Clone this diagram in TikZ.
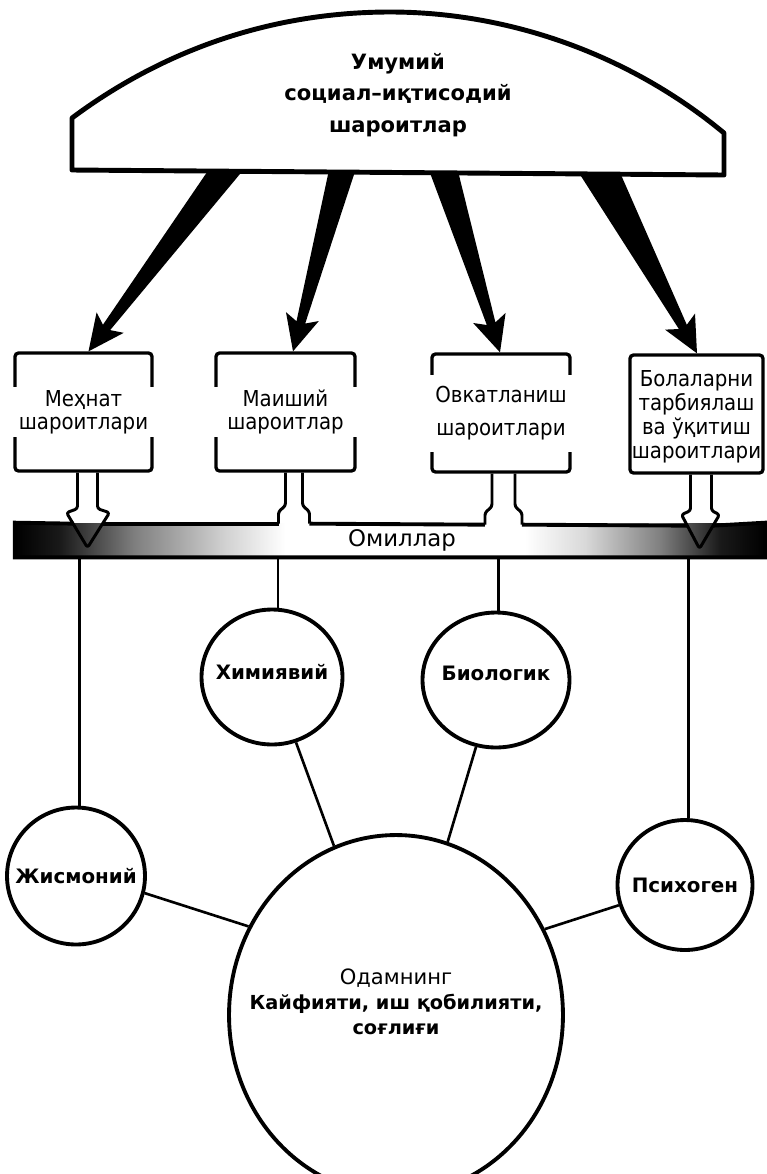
\documentclass[tikz,border=0pt]{standalone}
\usepackage{fontspec}
\setmainfont{DejaVu Sans}
\newfontfamily\condfont{DejaVu Sans Condensed}
\usetikzlibrary{shapes.geometric, calc}

% Omillar bar: dark ends fading to a white middle
\pgfdeclarehorizontalshading{omilshade}{100bp}{%
  color(0bp)=(black); color(25bp)=(black); color(28bp)=(black!90);
  color(33bp)=(black!50); color(39bp)=(black!18); color(43bp)=(white);
  color(59bp)=(white); color(63bp)=(black!15); color(68bp)=(black!50);
  color(72bp)=(black!90); color(75bp)=(black); color(100bp)=(black)}

% tapered black arrow: #1 start, #2 tip, #3 half width at the root
\newcommand{\taperarrow}[3]{%
  \coordinate (root) at ($(#1)!-0.5cm!(#2)$);
  \coordinate (neck) at ($(#2)!0.6cm!(#1)$);
  \coordinate (barb) at ($(#2)!0.72cm!(#1)$);
  \fill ($(root)!#3!90:(#2)$) -- ($(neck)!0.09cm!90:(#2)$)
    -- ($(barb)!0.34cm!90:(#2)$) -- (#2) -- ($(barb)!0.34cm!-90:(#2)$)
    -- ($(neck)!0.09cm!-90:(#2)$) -- ($(root)!#3!-90:(#2)$) -- cycle;
}

\begin{document}
\begin{tikzpicture}[
    x=0.02cm, y=-0.02cm,
    domeline/.style={line width=2.8pt, line join=round},
    condbox/.style={draw, line width=1.9pt, rounded corners=2pt, minimum height=2.36cm, inner sep=0pt},
    boxtext/.style={font=\condfont\fontsize{12.5}{13}\selectfont, align=center, inner sep=0pt, fill=white, minimum height=1cm},
    factor/.style={ellipse, draw, line width=2.2pt, fill=white, inner sep=0pt},
    factorlabel/.style={font=\bfseries\fontsize{11.3}{13}\selectfont},
    link/.style={line width=1.5pt},
    stem/.style={line width=1.7pt, line join=round, rounded corners=1.5pt},
    barline/.style={line width=2.2pt}
]
    \useasboundingbox (0,0) rectangle (767,1174);
    \clip (0,0) rectangle (767,1174);

    % ==========================================
    % CONDITION BOXES
    % ==========================================
    \node[condbox, minimum width=2.74cm] (mehnat) at (83.5,412) {};
    \node[condbox, minimum width=2.78cm] (maishiy) at (285.5,412) {};
    \node[condbox, minimum width=2.76cm] (ovqat) at (501,413) {};
    \node[condbox, minimum width=2.66cm] (bola) at (696.5,414) {};

    \node[boxtext, minimum width=2.86cm] (mehnat-t) at (mehnat.center) {Меҳнат\\шароитлари};
    \node[boxtext, minimum width=2.9cm] (maishiy-t) at (maishiy.center) {Маиший\\шароитлар};
    \node[boxtext, minimum width=2.88cm, minimum height=1.54cm,
          font=\condfont\fontsize{12.5}{18.7}\selectfont] (ovqat-t) at (ovqat.center) {Овкатланиш\\шароитлари};
    \node[boxtext, fill=none, font=\condfont\fontsize{12.5}{13.6}\selectfont] (bola-t) at ([yshift=-1.5pt]bola.center)
        {Болаларни\\тарбиялаш\\ва ўқитиш\\шароитлари};

    % ==========================================
    % DOME AND ITS ARROWS
    % ==========================================
    \coordinate (u1) at (224.5,171);
    \coordinate (u2) at (341.5,172);
    \coordinate (u3) at (444.5,173);
    \coordinate (u4) at (601,174);
    \coordinate (t1) at ($(mehnat.north)+(5,0)$);
    \coordinate (t2) at ($(maishiy.north)+(7.5,0)$);
    \coordinate (t3) at ($(ovqat.north)+(-1,0)$);
    \coordinate (t4) at ($(bola.north)+(0.5,0)$);

    \taperarrow{u1}{t1}{0.30cm}
    \taperarrow{u2}{t2}{0.28cm}
    \taperarrow{u3}{t3}{0.30cm}
    \taperarrow{u4}{t4}{0.40cm}

    \draw[domeline, fill=white] (72,170) -- (72,118)
        .. controls (170,45) and (280,12) .. (390,12)
        .. controls (510,12) and (630,55) .. (724,133) -- (724,175) -- cycle;
    \node[font=\bfseries\fontsize{12}{18}\selectfont, align=center] (umumiy) at (398,95)
        {Умумий\\социал–иқтисодий\\шароитлар};

    % ==========================================
    % OMILLAR BAR
    % ==========================================
    \node[shade, shading=omilshade, minimum width=15cm, minimum height=0.68cm, inner sep=0pt] (omil) at (390,540) {};
    \node[font=\fontsize{13}{15}\selectfont] (omil-t) at (402,540) {Омиллар};

    % stems from the boxes into the bar
    \draw[stem] ($(mehnat.south)+(-6,0)$) -- ++(0,36) -- ++(-11,4) -- ($(mehnat.south)+(4,75)$)
        -- ($(mehnat.south)+(26,40)$) -- ++(-12,-4) -- ++(0,-36);
    \draw[stem] (maishiy.south) -- ++(0,33) -- ++(-7,6) -- ++(0,12) coordinate (m2l);
    \draw[stem] ($(maishiy.south)+(17,0)$) -- ++(0,33) -- ++(7,6) -- ++(0,12) coordinate (m2r);
    \draw[stem] ($(ovqat.south)+(-9,0)$) -- ++(0,33) -- ++(-7,6) -- ++(0,12) coordinate (m3l);
    \draw[stem] ($(ovqat.south)+(14,0)$) -- ++(0,33) -- ++(7,6) -- ++(0,12) coordinate (m3r);
    \draw[stem] ($(bola.south)+(-6,0)$) -- ++(0,36) -- ++(-9,4) -- ($(bola.south)+(3,74)$)
        -- ($(bola.south)+(23,40)$) -- ++(-8,-4) -- ++(0,-36);

    \coordinate (h1l) at ($(mehnat.south)+(-10,51)$);
    \coordinate (h1r) at ($(mehnat.south)+(19.5,51)$);
    \coordinate (h4l) at ($(bola.south)+(-9,51)$);
    \coordinate (h4r) at ($(bola.south)+(16.5,51)$);

    \draw[barline] (h1l) -- (omil.north west) -- (omil.south west) -- (omil.south east)
        -- (omil.north east) -- (h4r);
    \draw[barline] (h1r) -- (m2l);
    \draw[barline] (m2r) -- (m3l);
    \draw[barline] (m3r) -- (h4l);

    % ==========================================
    % FACTORS
    % ==========================================
    \node[factor, minimum width=2.82cm, minimum height=2.7cm,
          label={[factorlabel, yshift=3pt]center:Химиявий}] (kimyo) at (272,677) {};
    \node[factor, minimum width=2.94cm, minimum height=2.7cm,
          label={[factorlabel, yshift=4pt]center:Биологик}] (bio) at (496,680) {};
    \node[factor, minimum width=2.76cm, minimum height=2.74cm,
          label={[factorlabel]center:Жисмоний}] (zhis) at (76,876) {};
    \node[factor, minimum width=2.7cm, minimum height=2.6cm,
          label={[factorlabel]center:Психоген}] (psix) at (685,885) {};
    \node[factor, minimum width=6.68cm, minimum height=7.2cm,
          label={[font=\bfseries\fontsize{11}{14.2}\selectfont, align=center, yshift=7.4pt]center:{{\mdseries\fontsize{12}{14.2}\selectfont Одамнинг}\\Кайфияти, иш қобилияти,\\соғлиғи}}] (odam) at (396,1015) {};

    % bar down to the factors
    \draw[link] (zhis.87 |- omil.south) -- (zhis.87);
    \draw[link] (kimyo.85 |- omil.south) -- (kimyo.85);
    \draw[link] (bio.88 |- omil.south) -- (bio.88);
    \draw[link] (psix.87 |- omil.south) -- (psix.87);

    % factors to the person
    \draw[link] (kimyo) -- (odam);
    \draw[link] (bio) -- (odam);
    \draw[link] (zhis.-14) -- (odam.149);
    \draw[link] (psix.-163) -- (odam.30);

\end{tikzpicture}
\end{document}
